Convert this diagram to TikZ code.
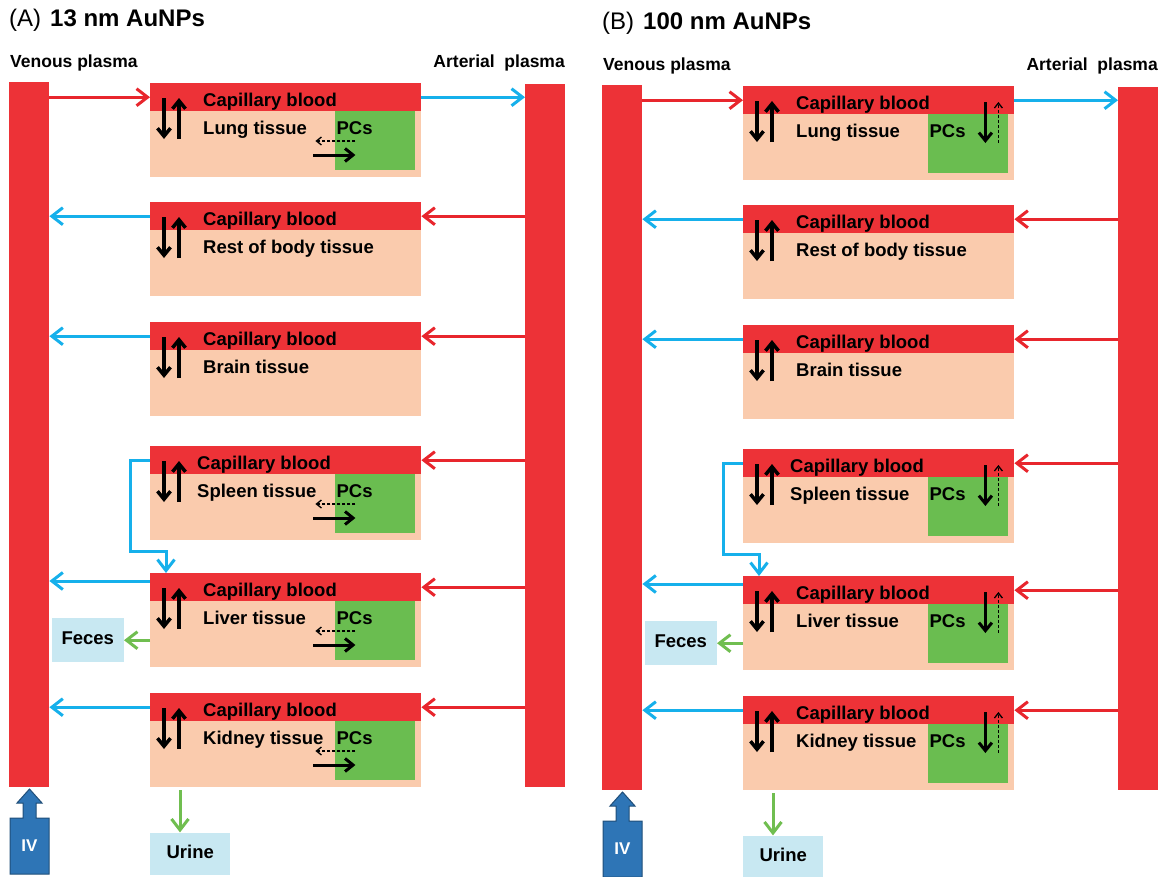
\documentclass[tikz,border=0pt]{standalone}
\usepackage{fontspec}
\setmainfont{Liberation Sans}
\usetikzlibrary{positioning,calc,arrows.meta}

\definecolor{plasma}{RGB}{237,50,55}
\definecolor{tissuecol}{RGB}{250,203,173}
\definecolor{pcgreen}{RGB}{106,189,80}
\definecolor{flowblue}{RGB}{22,176,235}
\definecolor{flowred}{RGB}{232,38,45}
\definecolor{flowgreen}{RGB}{112,190,80}
\definecolor{excr}{RGB}{200,232,242}
\definecolor{ivblue}{RGB}{46,117,182}
\definecolor{ivedge}{RGB}{31,78,121}

\begin{document}
\begin{tikzpicture}[x=1pt, y=-1pt,
    bar/.style={fill=plasma, minimum width=40pt, inner sep=0pt, anchor=north west},
    tissue/.style={fill=tissuecol, minimum width=271pt, minimum height=94pt, inner sep=0pt, anchor=north west},
    capbox/.style={fill=plasma, minimum width=271pt, minimum height=28pt, inner sep=0pt, anchor=north west},
    pcbox/.style={fill=pcgreen, minimum width=80pt, minimum height=59pt, inner sep=0pt, anchor=north west},
    lbl/.style={font=\bfseries\fontsize{18.5}{21}\selectfont, inner sep=0pt, text height=13pt, text depth=3.5pt},
    plbl/.style={lbl, font=\bfseries\fontsize{17.5}{20}\selectfont},
    outbox/.style={lbl, fill=excr, minimum width=72pt, minimum height=44pt},
    redflow/.style={draw=flowred, line width=3pt, -{Straight Barb[length=11pt,width=17pt]}},
    blueflow/.style={redflow, draw=flowblue},
    greenflow/.style={redflow, draw=flowgreen},
    exch/.style={line width=3.5pt, -{Straight Barb[length=8pt,width=13pt]}},
    slow/.style={line width=1.3pt, dash pattern=on 3pt off 2pt, -{Straight Barb[length=5pt,width=8pt]}}
]
\useasboundingbox (0,0) rectangle (1162,876);

\foreach \p/\nm/\sx/\sy in {A/13/0/0, B/100/593/3}{
\begin{scope}[shift={(\sx,\sy)}]
  % title and plasma columns
  \node[anchor=west, inner sep=0pt, font=\fontsize{24}{26}\selectfont] (\p-title) at (9,20) {(\p)\hspace{9pt}\textbf{\nm\ nm AuNPs}};
  \node[plbl, anchor=west] (\p-venlbl) at (10,62.5) {Venous plasma};
  \node[plbl, anchor=east] (\p-artlbl) at (565,62.5) {Arterial~ plasma};
  \node[bar, minimum height=705pt] (\p-ven) at (9,82) {};
  \node[bar, minimum height=703pt] (\p-art) at (525,84) {};

  % organ compartments
  \foreach \org/\y/\txt/\tx in {lung/83/Lung tissue/53, rest/202/Rest of body tissue/53,
      brain/322/Brain tissue/53, spleen/446/Spleen tissue/47,
      liver/573/Liver tissue/53, kidney/693/Kidney tissue/53}{
    \node[tissue] (\p-\org) at (150,\y) {};
    \node[capbox] (\p-\org-cap) at (150,\y) {};
    \node[lbl, anchor=west] (\p-\org-caplbl) at ($(\p-\org.north west)+(\tx,19)$) {Capillary blood};
    \node[lbl, anchor=west] (\p-\org-lbl) at ($(\p-\org.north west)+(\tx,47)$) {\txt};
    \draw[exch] ($(\p-\org.north west)+(14,15)$) -- ($(\p-\org.north west)+(14,56)$);
    \draw[exch] ($(\p-\org.north west)+(29,56)$) -- ($(\p-\org.north west)+(29,15)$);
  }
  \foreach \org in {lung,spleen,liver,kidney}{
    \node[pcbox] (\p-\org-pc) at ($(\p-\org.north east)+(-87,28)$) {};
    \node[lbl, anchor=west] (\p-\org-pclbl) at ($(\p-\org-pc.north west)+(2,19)$) {PCs};
  }

  % blood flow
  \draw[redflow] (\p-ven.east |- \p-lung-cap.west) -- (\p-lung-cap.west);
  \draw[blueflow] (\p-lung-cap.east) -- (\p-lung-cap.east -| \p-art.west);
  \foreach \org in {rest,brain,spleen,liver,kidney}
    \draw[redflow] (\p-art.west |- \p-\org-cap.east) -- (\p-\org-cap.east);
  \foreach \org in {rest,brain,kidney}
    \draw[blueflow] (\p-\org-cap.west) -- (\p-\org-cap.west -| \p-ven.east);
  \coordinate (\p-lvout) at ($(\p-liver.north west)+(0,8)$);
  \draw[blueflow] (\p-lvout) -- (\p-lvout -| \p-ven.east);
  \draw[blueflow] (\p-spleen-cap.west) -- ++(-20,0) |- ($(\p-liver.north west)+(16,-22)$) -- ($(\p-liver.north west)+(16,0)$);

  % excretion
  \node[outbox, left=26pt of \p-liver.west, yshift=-20pt] (\p-feces) {Feces};
  \draw[greenflow] (\p-liver.west |- \p-feces.east) -- (\p-feces.east);
  \node[outbox, minimum width=80pt, minimum height=42pt, below right=45pt and 0pt of \p-kidney.south west] (\p-urine) {Urine};
  \coordinate (\p-kout) at ($(\p-kidney.south west)+(30,3)$);
  \draw[greenflow] (\p-kout) -- (\p-kout |- \p-urine.north);

  % IV dose
  \filldraw[fill=ivblue, draw=ivedge, line width=1pt] (10,874) -- (49,874) -- (49,818) -- (36,818) -- (36,803) -- (42,803)
    -- (29.5,789) -- (17,803) -- (23,803) -- (23,818) -- (10,818) -- cycle;
  \node[font=\bfseries\fontsize{17}{20}\selectfont, text=white] (\p-iv) at (29.5,846) {IV};
\end{scope}
}

% PCs exchange, 13 nm
\foreach \org in {lung,spleen,liver,kidney}{
  \draw[slow] ($(A-\org-pc.north west)+(21,30)$) -- ($(A-\org-pc.north west)+(-19,30)$);
  \draw[exch, line width=3pt] ($(A-\org-pc.north west)+(-21,44)$) -- ($(A-\org-pc.north west)+(21,44)$);
}
% PCs exchange, 100 nm
\foreach \org in {lung,spleen,liver,kidney}{
  \draw[exch, line width=3pt] ($(B-\org-pc.north west)+(58,-12)$) -- ($(B-\org-pc.north west)+(58,29)$);
  \draw[slow] ($(B-\org-pc.north west)+(71,29)$) -- ($(B-\org-pc.north west)+(71,-12)$);
}
\end{tikzpicture}
\end{document}
